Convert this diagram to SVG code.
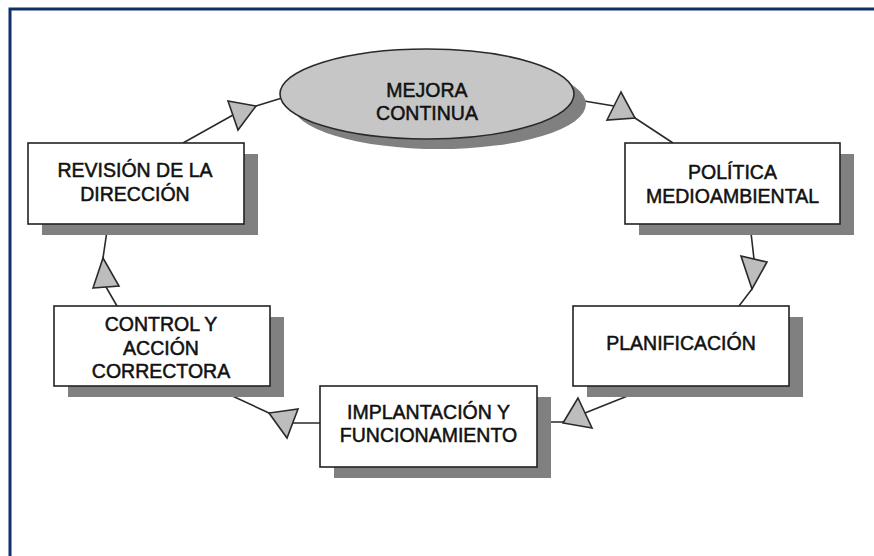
<svg xmlns="http://www.w3.org/2000/svg" width="874" height="556" viewBox="0 0 874 556">
  <style>
    .shadow { fill: #808080; }
    .box { fill: #ffffff; stroke: #222222; stroke-width: 1.6; }
    .oval { fill: #c6c6c6; stroke: #2a2a2a; stroke-width: 1.6; }
    .label { font-family: "Liberation Sans", Arial, sans-serif; font-size: 19.5px; fill: #111111; text-anchor: middle; stroke: #111111; stroke-width: 0.5; }
    .wire { fill: none; stroke: #2a2a2a; stroke-width: 1.6; }
    .head { fill: #bdbdbd; stroke: #2a2a2a; stroke-width: 1.6; stroke-linejoin: miter; }
  </style>

  <rect width="874" height="556" fill="#ffffff"/>
  <!-- frame -->
  <path d="M10,556 L10,9 L874,9" fill="none" stroke="#10306a" stroke-width="3"/>

  <!-- connectors, each with its mid-line triangle -->
  <g id="connectors">
    <path class="wire" d="M578,100 L614,106 L635,118 L673,143"/>
    <polygon class="head" points="621,92 607,120 635,118"/>

    <path class="wire" d="M750,224 L754,259 L752,289 L739,306"/>
    <polygon class="head" points="741,256 767,262 752,289"/>

    <path class="wire" d="M650,387 L585,413 L563,422 L537,422"/>
    <polygon class="head" points="578,398 592,428 563,423"/>

    <path class="wire" d="M320,423 L292,423 L269,413 L215,388"/>
    <polygon class="head" points="298,409 287,438 269,413"/>

    <path class="wire" d="M117,306 L106,287 L103,258 L108,224"/>
    <polygon class="head" points="93,288 119,286 103,258"/>

    <path class="wire" d="M183,143 L233,115 L256,106 L282,98"/>
    <polygon class="head" points="228,101 238,130 256,106"/>
  </g>

  <g id="mejora-continua">
    <ellipse class="shadow" cx="439" cy="104" rx="147" ry="45"/>
    <ellipse class="oval" cx="427" cy="94" rx="147" ry="45"/>
    <text class="label" x="427" y="97">MEJORA</text>
    <text class="label" x="427" y="120">CONTINUA</text>
  </g>

  <g id="politica">
    <rect class="shadow" x="639" y="154" width="215" height="81"/>
    <rect class="box" x="625" y="143" width="215" height="81"/>
    <text class="label" x="732.5" y="179">POLÍTICA</text>
    <text class="label" x="732.5" y="203">MEDIOAMBIENTAL</text>
  </g>

  <g id="planificacion">
    <rect class="shadow" x="587" y="317" width="216" height="80"/>
    <rect class="box" x="573" y="306" width="216" height="80"/>
    <text class="label" x="681" y="350">PLANIFICACIÓN</text>
  </g>

  <g id="implantacion">
    <rect class="shadow" x="334" y="397" width="217" height="81"/>
    <rect class="box" x="320" y="386" width="217" height="81"/>
    <text class="label" x="428.5" y="419">IMPLANTACIÓN Y</text>
    <text class="label" x="428.5" y="442">FUNCIONAMIENTO</text>
  </g>

  <g id="control">
    <rect class="shadow" x="68" y="317" width="216" height="80"/>
    <rect class="box" x="54" y="306" width="216" height="80"/>
    <text class="label" x="161" y="331">CONTROL Y</text>
    <text class="label" x="161" y="354.5">ACCIÓN</text>
    <text class="label" x="161" y="378">CORRECTORA</text>
  </g>

  <g id="revision">
    <rect class="shadow" x="42" y="154" width="216" height="81"/>
    <rect class="box" x="28" y="143" width="216" height="81"/>
    <text class="label" x="135" y="177">REVISIÓN DE LA</text>
    <text class="label" x="135" y="201">DIRECCIÓN</text>
  </g>
</svg>
